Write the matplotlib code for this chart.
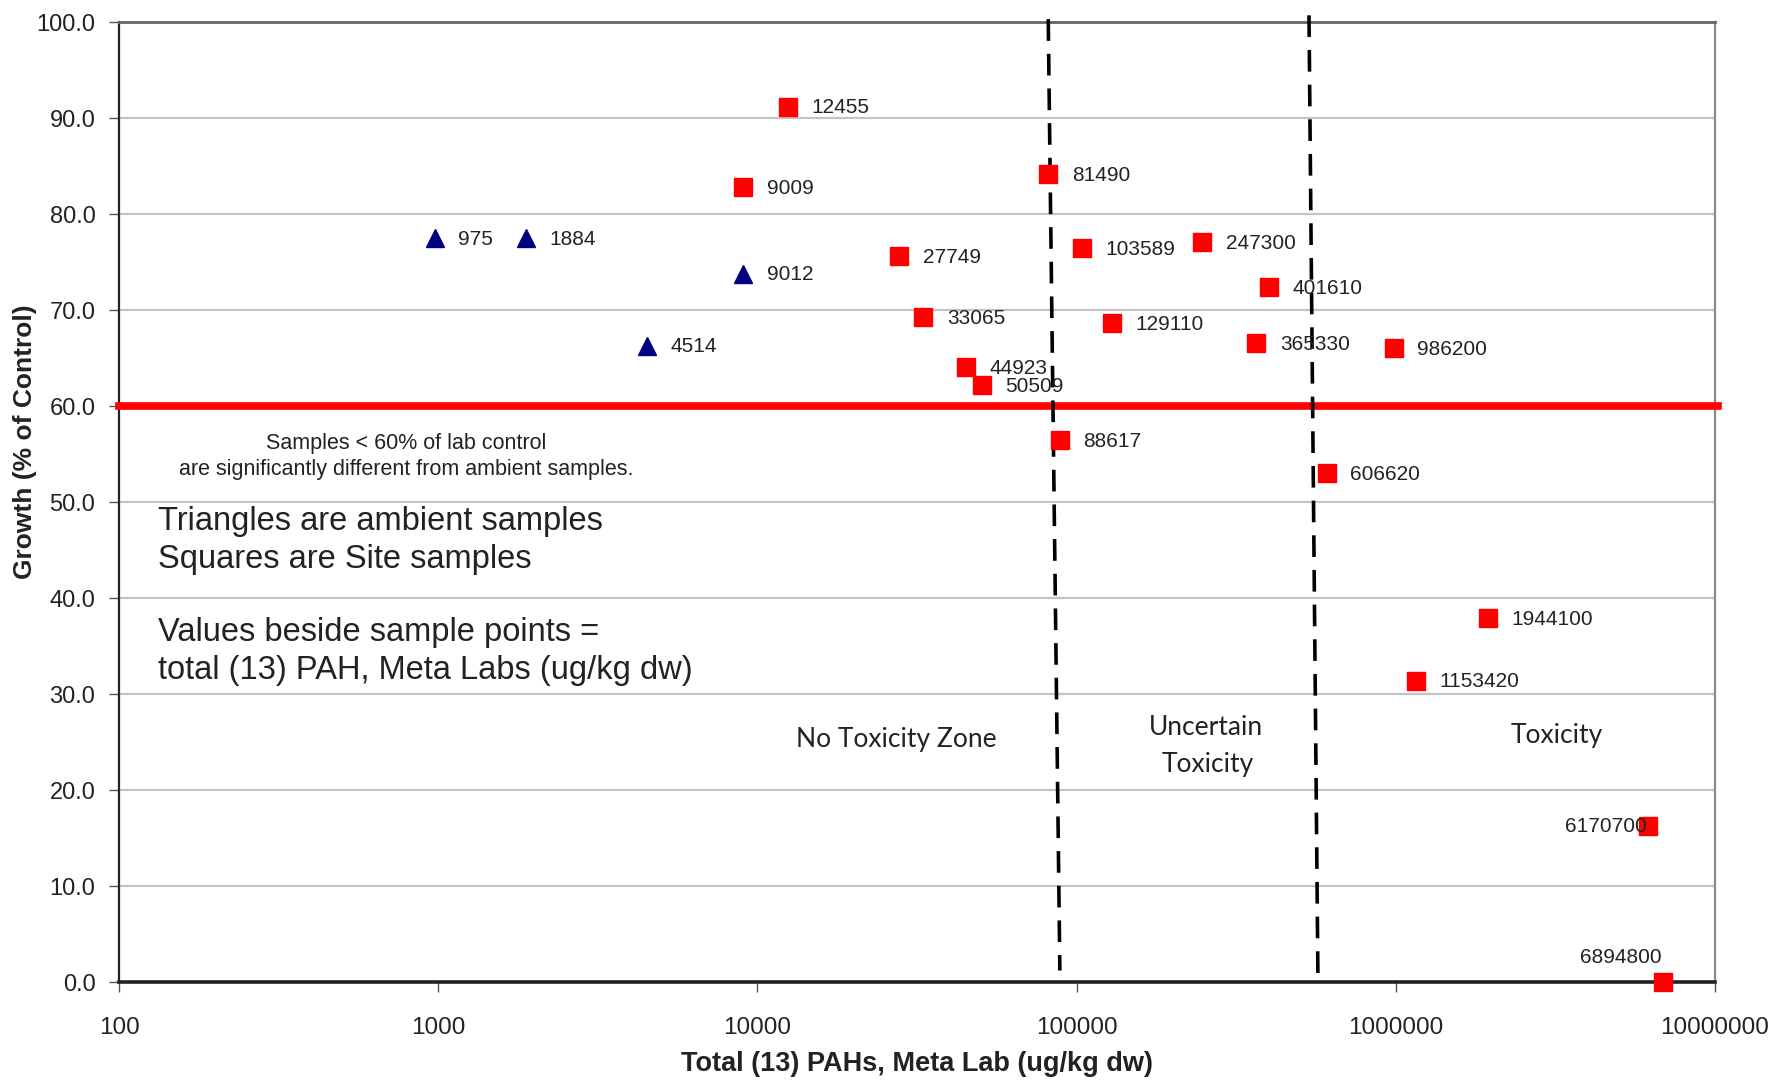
import numpy as np
import matplotlib.pyplot as plt
from matplotlib.ticker import FixedLocator, FuncFormatter, NullLocator

plt.rcParams['font.family'] = ['Liberation Sans', 'DejaVu Sans']

# ambient samples (triangles): total PAH vs growth
amb_pah = [975, 1884, 9012, 4514]
amb_growth = [77.5, 77.5, 73.8, 66.3]

# site samples (squares)
site_pah = [12455, 9009, 81490, 27749, 103589, 247300, 401610, 33065, 129110,
            365330, 986200, 44923, 50509, 88617, 606620, 1944100, 1153420,
            6170700, 6894800]
site_growth = [91.2, 82.8, 84.2, 75.6, 76.5, 77.1, 72.4, 69.3, 68.6,
               66.6, 66.0, 64.1, 62.2, 56.5, 53.0, 37.9, 31.4,
               16.3, 0.0]

# zone boundaries (hand drawn, slightly slanted): (x_top, x_bottom), (y_top, y_bottom)
bound1_x = [81490, 88617]
bound1_y = [100.3, 1.2]
bound2_x = [534600, 570500]
bound2_y = [100.7, -0.4]
threshold = 60.0

fig = plt.figure(figsize=(17.9, 10.8), dpi=100)
ax = fig.add_axes([0.0665, 0.0907, 0.8916, 0.8889])

ax.set_xscale('log')
ax.set_xlim(100, 1e7)
ax.set_ylim(0, 100)

ax.yaxis.set_major_locator(FixedLocator(np.arange(0, 101, 10)))
ax.yaxis.set_major_formatter(FuncFormatter(lambda v, p: '%.1f' % v))
ax.xaxis.set_major_locator(FixedLocator([1e2, 1e3, 1e4, 1e5, 1e6, 1e7]))
ax.xaxis.set_major_formatter(FuncFormatter(lambda v, p: '%d' % round(v)))
ax.xaxis.set_minor_locator(NullLocator())

ax.grid(axis='y', color='#c4c4c4', lw=1.6, zorder=0)
ax.tick_params(axis='y', labelsize=17, length=7, width=1, color='#555555',
               pad=10, labelcolor='#222222')
ax.tick_params(axis='x', labelsize=17.5, length=7, width=1, color='#555555',
               pad=18, labelcolor='#222222')

ax.spines['left'].set_color('#222222')
ax.spines['left'].set_linewidth(1.6)
ax.spines['bottom'].set_color('#222222')
ax.spines['bottom'].set_linewidth(2.6)
ax.spines['top'].set_color('#666666')
ax.spines['top'].set_linewidth(2.0)
ax.spines['right'].set_color('#8a8a8a')
ax.spines['right'].set_linewidth(1.6)

# threshold line
ax.axhline(threshold, xmin=0, xmax=1.002, color='#ff0000', lw=5.5, zorder=3,
           clip_on=False)

# zone boundaries
for bx, by in [(bound1_x, bound1_y), (bound2_x, bound2_y)]:
    ax.plot(bx, by, color='black', lw=2.6, dashes=(6, 3.6), zorder=4,
            clip_on=False, solid_capstyle='butt', dash_capstyle='butt')

ax.plot(amb_pah, amb_growth, linestyle='none', marker='^', ms=13,
        color='#000080', zorder=5)
ax.plot(site_pah, site_growth, linestyle='none', marker='s', ms=12.5,
        color='#ff0000', zorder=5, clip_on=False)

for x, y in zip(amb_pah, amb_growth):
    ax.annotate(str(x), (x, y), xytext=(17, -1), textcoords='offset points',
                va='center', ha='left', fontsize=15, color='#222222', zorder=6)

special = {6170700: ((-1, -1), 'right'), 6894800: ((-1, 18), 'right')}
for x, y in zip(site_pah, site_growth):
    off, ha = special.get(x, ((17, -1), 'left'))
    ax.annotate(str(x), (x, y), xytext=off, textcoords='offset points',
                va='center', ha=ha, fontsize=15, color='#222222', zorder=6)

# annotations
tr = ax.get_yaxis_transform()
ax.text(0.180, 56.1, 'Samples < 60% of lab control', transform=tr,
        ha='center', va='center', fontsize=15.5, color='#222222')
ax.text(0.180, 53.4, 'are significantly different from ambient samples.',
        transform=tr, ha='center', va='center', fontsize=15.5, color='#222222')

ax.text(0.0243, 48.0, 'Triangles are ambient samples', transform=tr,
        ha='left', va='center', fontsize=23.5, color='#222222')
ax.text(0.0243, 44.0, 'Squares are Site samples', transform=tr,
        ha='left', va='center', fontsize=23.5, color='#222222')
ax.text(0.0243, 36.4, 'Values beside sample points =', transform=tr,
        ha='left', va='center', fontsize=23.5, color='#222222')
ax.text(0.0243, 32.5, 'total (13) PAH, Meta Labs (ug/kg dw)', transform=tr,
        ha='left', va='center', fontsize=23.5, color='#222222')

zone_font = ['Lato', 'DejaVu Sans']
ax.text(0.487, 25.3, 'No Toxicity Zone', transform=tr,
        ha='center', va='center', fontsize=19, color='#222222', family=zone_font)
ax.text(0.681, 26.5, 'Uncertain', transform=tr,
        ha='center', va='center', fontsize=19, color='#222222', family=zone_font)
ax.text(0.682, 22.7, 'Toxicity', transform=tr,
        ha='center', va='center', fontsize=19, color='#222222', family=zone_font)
ax.text(0.9006, 25.7, 'Toxicity', transform=tr,
        ha='center', va='center', fontsize=19, color='#222222', family=zone_font)

ax.set_ylabel('Growth (% of Control)', fontsize=19, fontweight='bold', color='#222222')
ax.yaxis.set_label_coords(-0.0517, 0.5625)
ax.set_xlabel('Total (13) PAHs, Meta Lab (ug/kg dw)', fontsize=19.5,
              fontweight='bold', color='#222222', labelpad=9)

fig.savefig('out.png', dpi=100, facecolor='white')
